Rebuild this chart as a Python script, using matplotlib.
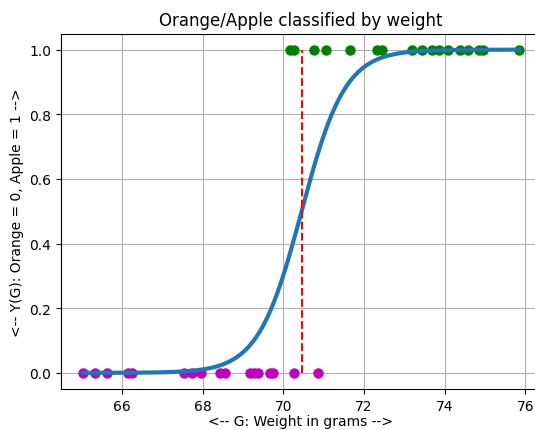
import numpy as np
import matplotlib
matplotlib.use("Agg")
import matplotlib.pyplot as plt

# ---------------------------------------------------------
# DATA (weights in grams)
# ---------------------------------------------------------

orange_weights = [65.02, 65.33, 65.63, 66.14, 66.24, 67.53, 67.74, 67.95,
                  68.43, 68.55, 69.16, 69.28, 69.37, 69.66, 69.74, 70.26, 70.85]
apple_weights = [70.16, 70.26, 70.76, 71.05, 71.66, 72.33, 72.45, 73.18,
                 73.45, 73.68, 73.87, 74.08, 74.37, 74.57, 74.85, 74.95, 75.85]

# fitted logistic model: p = 1 / (1 + exp(-(coef * G + intercept)))
coef = 1.85
intercept = -1.85 * 70.45
decision_boundary = 70.47

# ---------------------------------------------------------
# PLOT
# ---------------------------------------------------------

fig = plt.figure(figsize=(5.35, 4.31), dpi=100)
ax = fig.add_axes([61 / 535, 41 / 431, 480 / 535, 355.5 / 431])

ax.plot(orange_weights, np.zeros(len(orange_weights)), 'mo', ms=6.5)
ax.plot(apple_weights, np.ones(len(apple_weights)), 'go', ms=6.5)

g = np.linspace(min(orange_weights), max(apple_weights), 300)
p = 1 / (1 + np.exp(-(coef * g + intercept)))
ax.plot(g, p, color='C0', lw=3)

ax.plot([decision_boundary, decision_boundary], [0, 1], 'r--')

ax.set_title("Orange/Apple classified by weight")
ax.set_xlabel("<-- G: Weight in grams -->", labelpad=1)
ax.set_ylabel("<-- Y(G): Orange = 0, Apple = 1 -->")
ax.grid(True)

fig.savefig("out.png", dpi=100)
